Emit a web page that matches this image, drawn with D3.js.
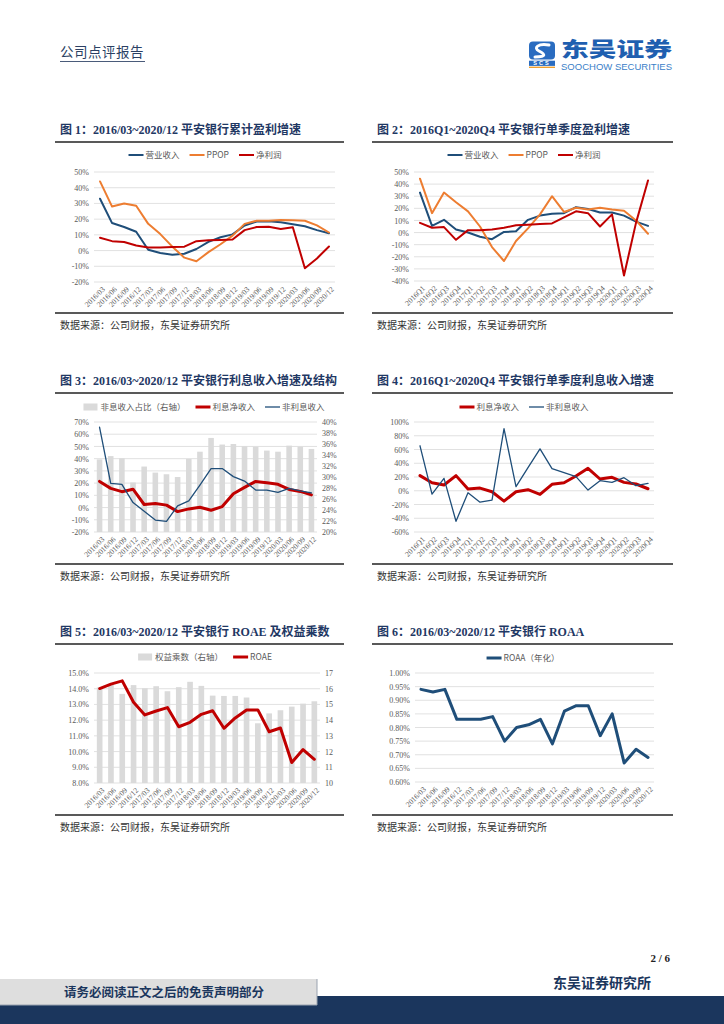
<!DOCTYPE html>
<html><head><meta charset="utf-8">
<script src="https://cdn.jsdelivr.net/npm/d3@7/dist/d3.min.js"></script>
<style>
body{margin:0;background:#fff;}
svg{display:block;}
</style></head><body>
<svg id="page" width="724" height="1024"></svg>
<script>
// ---------------- DATA ----------------
const monthCats = ["2016/03","2016/06","2016/09","2016/12","2017/03","2017/06","2017/09","2017/12","2018/03","2018/06","2018/09","2018/12","2019/03","2019/06","2019/09","2019/12","2020/03","2020/06","2020/09","2020/12"];
const quarterCats = ["2016Q1","2016Q2","2016Q3","2016Q4","2017Q1","2017Q2","2017Q3","2017Q4","2018Q1","2018Q2","2018Q3","2018Q4","2019Q1","2019Q2","2019Q3","2019Q4","2020Q1","2020Q2","2020Q3","2020Q4"];

// Chart 1: cumulative growth (%)
const c1Revenue = [33,17.5,15,12,0.5,-1.5,-2.7,-2,1,5.5,8.5,10.3,16,18.5,18.7,18,16.8,15.5,13,11];
const c1PPOP    = [44,28,30,28.5,17,10.5,2.5,-4.5,-6.8,-1,4,9.5,17,19,19,19.5,19.3,19,16,11.5];
const c1Profit  = [8.2,6,5.5,3.2,2,2,2.2,2.5,6,6.5,6.8,7,13,15,15.2,13.7,14.8,-11.2,-5,2.6];
const c1Ticks = [-20,-10,0,10,20,30,40,50];

// Chart 2: single-quarter growth (%)
const c2Revenue = [33,5.5,10.5,2.5,0,-3.5,-5.5,0.5,1,10.5,14,15.5,16,21,19.5,16.5,16.5,14,9,5.5];
const c2PPOP    = [44.5,16,33,25,17.5,5,-12,-23.5,-7,3.5,15,30,17,20.5,19,20.5,19,18,10,-1];
const c2Profit  = [8,4,4.5,-6,2,2,2.5,4,6,6.5,7,7.5,12.5,17.5,16,5,15,-35.5,8,43];
const c2Ticks = [-40,-30,-20,-10,0,10,20,30,40,50];

// Chart 3: interest income growth & structure (%)
const c3NonIntShare = [33.2,33.8,33.4,29.0,31.9,30.8,30.5,30.0,33.3,34.6,37.1,35.9,36.0,35.6,35.5,34.8,34.6,35.7,35.5,35.1];
const c3NetInt      = [21.4,15.7,13,15,2.5,3.3,2,-3.3,-1.1,0.3,-2.2,0.8,11.3,16.5,21.4,20.3,19,14.8,13.2,10.4];
const c3NonInt      = [65.7,19.8,19,4.1,-3,-10.2,-11.3,1.4,5.5,18.4,31.9,31.9,25.3,21.7,14.3,14.3,12.4,15.7,13.7,12.1];
const c3LeftTicks = [-20,-10,0,10,20,30,40,50,60,70];
const c3RightTicks = [20,22,24,26,28,30,32,34,36,38,40];

// Chart 4: single-quarter interest income growth (%)
const c4NetInt = [22,11.7,8.3,22,2.4,3.9,-1.5,-15.1,-1.5,1.5,-5.4,9.3,11.7,21.5,32.7,17.1,19.5,12.2,9.8,2.9];
const c4NonInt = [65.4,-4.9,18,-44.4,-2.9,-16.6,-13.7,90.2,5.9,33.7,61,32.2,26.3,20.5,1,14.6,12.2,19,7.3,10.7];
const c4Ticks = [-60,-40,-20,0,20,40,60,80,100];

// Chart 5: ROAE (%) and equity multiplier
const c5Multiplier = [16.08,16.25,15.67,16.23,16.03,16.16,15.84,16.1,16.44,16.18,15.56,15.54,15.54,15.44,13.8,14.43,14.63,14.86,15.05,15.2];
const c5ROAE       = [14.01,14.29,14.5,13.14,12.33,12.58,12.8,11.58,11.86,12.37,12.6,11.48,12.14,12.65,12.65,11.26,11.5,9.3,10.13,9.51];
const c5LeftTicks = [8,9,10,11,12,13,14,15];
const c5RightTicks = [10,11,12,13,14,15,16,17];

// Chart 6: ROAA annualised (%)
const c6ROAA = [0.94,0.93,0.94,0.83,0.83,0.83,0.84,0.75,0.80,0.81,0.83,0.74,0.86,0.88,0.88,0.77,0.85,0.67,0.72,0.69];
const c6Ticks = [0.60,0.65,0.70,0.75,0.80,0.85,0.90,0.95,1.00];

const titles = [
  "图 1：2016/03~2020/12 平安银行累计盈利增速",
  "图 2：2016Q1~2020Q4 平安银行单季度盈利增速",
  "图 3：2016/03~2020/12 平安银行利息收入增速及结构",
  "图 4：2016Q1~2020Q4 平安银行单季度利息收入增速",
  "图 5：2016/03~2020/12 平安银行 ROAE 及权益乘数",
  "图 6：2016/03~2020/12 平安银行 ROAA"
];
const sourceText = "数据来源：公司财报，东吴证券研究所";

// ---------------- STYLE ----------------
const BLUE = "#1f4e79", ORANGE = "#ed7d31", RED = "#c00000", BAR = "#dadada", GRID = "#d9d9d9";
const NAVY = "#1b365d";
const SERIF = "'Liberation Serif','Times New Roman','Noto Sans CJK SC',serif";
const CJK = "'Noto Sans CJK SC','Noto Sans',sans-serif";
const TITLEF = "'Liberation Serif','Noto Sans CJK SC',serif";

const svg = d3.select("#page");

// ---------------- HEADER ----------------
svg.append("text").attr("x",60).attr("y",57).text("公司点评报告")
  .attr("font-family",CJK).attr("font-size",13.5).attr("fill","#2b3f63").attr("letter-spacing",0.5);
svg.append("line").attr("x1",60).attr("x2",145).attr("y1",61.5).attr("y2",61.5).attr("stroke","#4a5b7a").attr("stroke-width",1);

// logo
const logo = svg.append("g");
logo.append("rect").attr("x",529).attr("y",41.5).attr("width",26).attr("height",18).attr("rx",4).attr("fill","#2a6cc0");
logo.append("path").attr("d","M549,45 C538,43 533,48 539,51 C545,54 547,57 535,57")
  .attr("fill","none").attr("stroke","#fff").attr("stroke-width",3).attr("stroke-linecap","round");
logo.append("rect").attr("x",529).attr("y",60.7).attr("width",26).attr("height",5.2).attr("fill","#2a6cc0");
logo.append("text").attr("x",542).attr("y",65.2).attr("text-anchor","middle").text("SCS")
  .attr("font-family","'Liberation Sans',Arial,sans-serif").attr("font-weight","bold").attr("font-size",5.6).attr("fill","#fff").attr("letter-spacing",2);
logo.append("rect").attr("x",529).attr("y",66.6).attr("width",26).attr("height",1.4).attr("fill","#f0a030");
logo.append("text").attr("x",561).attr("y",56.5).text("东吴证券")
  .attr("font-family",CJK).attr("font-weight","900").attr("font-size",20).attr("fill","#1f5fb0").attr("textLength",111).attr("lengthAdjust","spacingAndGlyphs");
logo.append("text").attr("x",561).attr("y",70).text("SOOCHOW SECURITIES")
  .attr("font-family","'Liberation Sans',Arial,sans-serif").attr("font-size",8.5).attr("fill","#3a80c8").attr("textLength",111).attr("lengthAdjust","spacingAndGlyphs");

// ---------------- PANELS ----------------
const panels = [
  {x0:55, x1:344, top:142},
  {x0:372, x1:673, top:142},
  {x0:55, x1:344, top:393},
  {x0:372, x1:673, top:393},
  {x0:55, x1:344, top:644},
  {x0:372, x1:673, top:644}
];
panels.forEach((p,i)=>{
  svg.append("text").attr("x",p.x0+5).attr("y",p.top-8).text(titles[i])
    .attr("font-family",TITLEF).attr("font-weight","bold").attr("font-size",12).attr("fill","#1f3864");
  svg.append("line").attr("x1",p.x0).attr("x2",p.x1).attr("y1",p.top).attr("y2",p.top).attr("stroke","#222").attr("stroke-width",1.6);
  svg.append("line").attr("x1",p.x0).attr("x2",p.x1).attr("y1",p.top+171).attr("y2",p.top+171).attr("stroke","#222").attr("stroke-width",1.6);
  svg.append("text").attr("x",p.x0+5).attr("y",p.top+187).text(sourceText)
    .attr("font-family",CJK).attr("font-size",10).attr("fill","#333");
});

// ---------------- CHART HELPERS ----------------
function legend(cx, cy, items){
  const g = svg.append("g");
  let x = 0;
  items.forEach(it=>{
    const ig = g.append("g").attr("transform",`translate(${x},0)`);
    if(it.type==="rect"){
      ig.append("rect").attr("x",0).attr("y",-3.5).attr("width",14).attr("height",7).attr("fill",it.color);
    } else {
      ig.append("line").attr("x1",0).attr("x2",15).attr("y1",0).attr("y2",0).attr("stroke",it.color).attr("stroke-width",it.w||2);
    }
    const t = ig.append("text").attr("x",17).attr("y",0).attr("dy","0.35em").text(it.label)
      .attr("font-family",CJK).attr("font-size",8.5).attr("fill","#595959");
    x += 17 + t.node().getComputedTextLength() + 10;
  });
  const w = x - 10;
  g.attr("transform",`translate(${cx - w/2},${cy})`);
}

function drawChart(cfg){
  const g = svg.append("g");
  const {left,right,top,bottom} = cfg;
  const x = d3.scalePoint().domain(cfg.cats).range([left,right]).padding(0.5);
  const y = d3.scaleLinear().domain([cfg.yTicks[0], cfg.yTicks[cfg.yTicks.length-1]]).range([bottom,top]);
  // grid
  g.append("g").selectAll("line").data(cfg.yTicks).join("line")
    .attr("x1",left).attr("x2",right).attr("y1",d=>y(d)).attr("y2",d=>y(d))
    .attr("stroke",GRID).attr("stroke-width",0.8);
  // bars on right axis
  if(cfg.bars){
    const yR = d3.scaleLinear().domain([cfg.rTicks[0], cfg.rTicks[cfg.rTicks.length-1]]).range([bottom,top]);
    const xb = d3.scaleBand().domain(cfg.cats).range([left,right]).paddingInner(0.5).paddingOuter(0.25);
    g.append("g").selectAll("rect").data(cfg.bars).join("rect")
      .attr("x",(d,i)=>xb(cfg.cats[i])).attr("width",xb.bandwidth())
      .attr("y",d=>yR(d)).attr("height",d=>bottom - yR(d)).attr("fill",BAR);
    const ra = d3.axisRight(yR).tickValues(cfg.rTicks).tickFormat(cfg.rFmt).tickSize(0).tickPadding(5);
    const rg = g.append("g").attr("transform",`translate(${right},0)`).call(ra);
    rg.select(".domain").remove();
    rg.selectAll("text").attr("font-family",SERIF).attr("font-size",8).attr("fill","#595959");
  }
  // left axis
  const la = d3.axisLeft(y).tickValues(cfg.yTicks).tickFormat(cfg.yFmt).tickSize(0).tickPadding(5);
  const lg = g.append("g").attr("transform",`translate(${left},0)`).call(la);
  lg.select(".domain").remove();
  lg.selectAll("text").attr("font-family",SERIF).attr("font-size",8).attr("fill","#595959");
  // x axis
  const xa = d3.axisBottom(x).tickSize(0).tickPadding(0);
  const xg = g.append("g").attr("transform",`translate(0,${bottom})`).call(xa);
  xg.select(".domain").remove();
  xg.selectAll("text").attr("font-family",SERIF).attr("font-size",7.6).attr("fill","#595959")
    .attr("x",0).attr("y",0).attr("dy","0.35em").attr("text-anchor","end")
    .attr("transform","translate(3,6) rotate(-45)");
  // lines
  cfg.lines.forEach(s=>{
    const line = d3.line().x((d,i)=>x(cfg.cats[i])).y(d=>y(d));
    g.append("path").datum(s.values).attr("d",line).attr("fill","none")
      .attr("stroke",s.color).attr("stroke-width",s.w).attr("stroke-linejoin","round").attr("stroke-linecap","round");
  });
}

const pct0 = d=>d+"%";

// Chart 1
drawChart({cats:monthCats,left:94,right:335,top:172,bottom:282,yTicks:c1Ticks,yFmt:pct0,
  lines:[{values:c1Revenue,color:BLUE,w:2},{values:c1PPOP,color:ORANGE,w:2},{values:c1Profit,color:RED,w:2}]});
legend(205,155,[{label:"营业收入",color:BLUE},{label:"PPOP",color:ORANGE},{label:"净利润",color:RED}]);

// Chart 2
drawChart({cats:quarterCats,left:414,right:654,top:172,bottom:281,yTicks:c2Ticks,yFmt:pct0,
  lines:[{values:c2Revenue,color:BLUE,w:2},{values:c2PPOP,color:ORANGE,w:2},{values:c2Profit,color:RED,w:2}]});
legend(524,155,[{label:"营业收入",color:BLUE},{label:"PPOP",color:ORANGE},{label:"净利润",color:RED}]);

// Chart 3
drawChart({cats:monthCats,left:94,right:317,top:422,bottom:532,yTicks:c3LeftTicks,yFmt:pct0,
  bars:c3NonIntShare,rTicks:c3RightTicks,rFmt:pct0,
  lines:[{values:c3NetInt,color:RED,w:3},{values:c3NonInt,color:BLUE,w:1.3}]});
legend(204,407,[{label:"非息收入占比（右轴）",color:BAR,type:"rect"},{label:"利息净收入",color:RED,w:3},{label:"非利息收入",color:BLUE,w:1.3}]);

// Chart 4
drawChart({cats:quarterCats,left:414,right:654,top:422,bottom:532,yTicks:c4Ticks,yFmt:pct0,
  lines:[{values:c4NetInt,color:RED,w:3},{values:c4NonInt,color:BLUE,w:1.3}]});
legend(524,407,[{label:"利息净收入",color:RED,w:3},{label:"非利息收入",color:BLUE,w:1.3}]);

// Chart 5
drawChart({cats:monthCats,left:94,right:320,top:673,bottom:783,yTicks:c5LeftTicks,yFmt:d=>d.toFixed(1)+"%",
  bars:c5Multiplier,rTicks:c5RightTicks,rFmt:d=>d,
  lines:[{values:c5ROAE,color:RED,w:3}]});
legend(205,657,[{label:"权益乘数（右轴）",color:BAR,type:"rect"},{label:"ROAE",color:RED,w:3}]);

// Chart 6
drawChart({cats:monthCats,left:415,right:654,top:673,bottom:782,yTicks:c6Ticks,yFmt:d=>d.toFixed(2)+"%",
  lines:[{values:c6ROAA,color:BLUE,w:3}]});
legend(523,658,[{label:"ROAA（年化）",color:BLUE,w:3}]);

// ---------------- FOOTER ----------------
svg.append("text").attr("x",670).attr("y",962).attr("text-anchor","end").text("2 / 6")
  .attr("font-family",SERIF).attr("font-weight","bold").attr("font-size",11).attr("fill","#222");
svg.append("text").attr("x",553).attr("y",988).text("东吴证券研究所")
  .attr("font-family",CJK).attr("font-weight","bold").attr("font-size",14).attr("fill",NAVY);
svg.append("rect").attr("x",0).attr("y",996).attr("width",724).attr("height",28).attr("fill",NAVY);
svg.append("rect").attr("x",0).attr("y",979).attr("width",317).attr("height",26).attr("fill","#dedede");
svg.append("line").attr("x1",317).attr("x2",317).attr("y1",979).attr("y2",1005).attr("stroke","#9aa3b0").attr("stroke-width",1);
svg.append("line").attr("x1",0).attr("x2",317).attr("y1",1005).attr("y2",1005).attr("stroke","#9aa3b0").attr("stroke-width",1);
svg.append("text").attr("x",64).attr("y",997).text("请务必阅读正文之后的免责声明部分")
  .attr("font-family",CJK).attr("font-weight","bold").attr("font-size",12.5).attr("fill",NAVY);
</script>
</body></html>
